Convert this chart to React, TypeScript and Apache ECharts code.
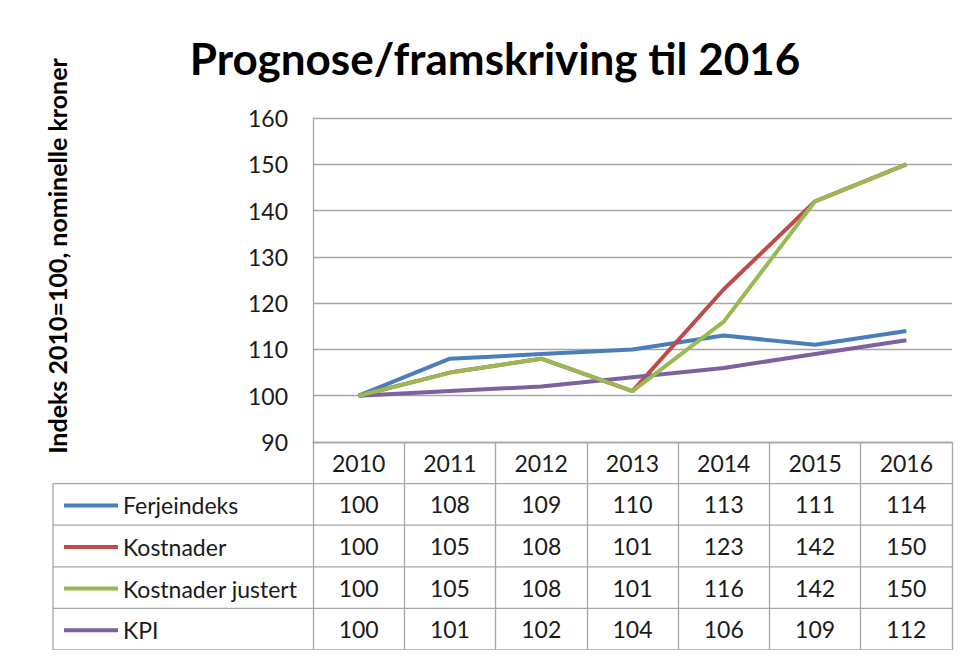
import React, { useEffect, useRef } from "react";
import * as echarts from "echarts";

const titleText = "Prognose/framskriving til 2016";
const yAxisTitle = "Indeks 2010=100, nominelle kroner";
const years = ["2010", "2011", "2012", "2013", "2014", "2015", "2016"];
const seriesNames = ["Ferjeindeks", "Kostnader", "Kostnader justert", "KPI"];
const ferjeindeks = [100, 108, 109, 110, 113, 111, 114];
const kostnader = [100, 105, 108, 101, 123, 142, 150];
const kostnaderJustert = [100, 105, 108, 101, 116, 142, 150];
const kpi = [100, 101, 102, 104, 106, 109, 112];
const colors = ["#4a7ebb", "#be4b48", "#98b954", "#7d60a0"];
const yTicks = { min: 90, max: 160, interval: 10 };

const W = 970;
const H = 658;
const gridLeft = 313;
const gridRight = 18;
const gridTop = 118;
const gridBottom = 216;
const rowH = 41.6;
const tableLeft = 53;
const FONT = "Lato, 'Open Sans', sans-serif";
const gridColor = "#a6a6a6";
const textSize = 23;

export default function App() {
  const ref = useRef<HTMLDivElement>(null);
  useEffect(() => {
    if (!ref.current) return;
    const chart = echarts.init(ref.current, undefined, { renderer: "svg" });
    const rows = [ferjeindeks, kostnader, kostnaderJustert, kpi];
    const axisBottomY = H - gridBottom;
    const plotRight = W - gridRight;

    const xAxes: any[] = [
      {
        type: "category",
        data: years,
        position: "bottom",
        boundaryGap: true,
        axisLine: { show: true, lineStyle: { color: gridColor, width: 1.3 } },
        axisTick: {
          show: true,
          interval: 0,
          length: rowH * 5,
          lineStyle: { color: gridColor, width: 1.3 },
        },
        axisLabel: {
          interval: 0,
          fontSize: textSize,
          fontFamily: FONT,
          color: "#1a1a1a",
          margin: rowH / 2,
          verticalAlign: "middle",
        },
      },
    ];
    rows.forEach((row, k) => {
      xAxes.push({
        type: "category",
        data: years,
        position: "bottom",
        boundaryGap: true,
        axisLine: { show: false },
        axisTick: { show: false },
        splitLine: { show: false },
        axisLabel: {
          interval: 0,
          fontSize: textSize,
          fontFamily: FONT,
          color: "#1a1a1a",
          margin: rowH / 2 + rowH * (k + 1),
          verticalAlign: "middle",
          formatter: (_v: string, i: number) => String(row[i]),
        },
      });
    });

    const graphics: any[] = [
      {
        id: "frameTop",
        type: "rect",
        shape: { x: 6, y: 4.5, width: W, height: 2 },
        style: { fill: "#9a9a9a" },
      },
      {
        id: "frameLeft",
        type: "rect",
        shape: { x: 6, y: 4.5, width: 2, height: H },
        style: { fill: "#9a9a9a" },
      },
      {
        id: "title",
        type: "text",
        x: 495,
        y: 58,
        style: {
          text: titleText,
          font: `bold 44px ${FONT}`,
          fill: "#000",
          textAlign: "center",
          textVerticalAlign: "middle",
        },
      },
      {
        id: "ytitle",
        type: "text",
        x: 57,
        y: 256,
        rotation: Math.PI / 2,
        style: {
          text: yAxisTitle,
          font: `bold 25px ${FONT}`,
          fill: "#000",
          textAlign: "center",
          textVerticalAlign: "middle",
        },
      },
      {
        id: "tableLeft",
        type: "line",
        shape: { x1: tableLeft, y1: axisBottomY + rowH, x2: tableLeft, y2: axisBottomY + rowH * 5 },
        style: { stroke: gridColor, lineWidth: 1.3 },
      },
    ];
    for (let r = 1; r <= 5; r++) {
      const y = axisBottomY + rowH * r;
      graphics.push({
        id: "row" + r,
        type: "line",
        shape: { x1: tableLeft, y1: y, x2: plotRight, y2: y },
        style: { stroke: gridColor, lineWidth: 1.3 },
      });
    }

    chart.setOption({
      animation: false,
      backgroundColor: "#ffffff",
      color: colors,
      grid: { left: gridLeft, right: gridRight, top: gridTop, bottom: gridBottom, containLabel: false },
      legend: {
        orient: "vertical",
        left: 59,
        top: axisBottomY + rowH + rowH / 2 - 12 - 4,
        itemWidth: 54,
        itemHeight: 4,
        itemGap: rowH - 24,
        icon: "rect",
        selectedMode: false,
        textStyle: { fontSize: textSize, fontFamily: FONT, color: "#1a1a1a", lineHeight: 24 },
        data: seriesNames,
      },
      xAxis: xAxes,
      yAxis: {
        type: "value",
        min: yTicks.min,
        max: yTicks.max,
        interval: yTicks.interval,
        axisLine: { show: true, lineStyle: { color: gridColor, width: 1.3 } },
        axisTick: { show: false },
        splitLine: { show: true, lineStyle: { color: gridColor, width: 1.3 } },
        axisLabel: { fontSize: textSize, fontFamily: FONT, color: "#1a1a1a", margin: 25 },
      },
      series: rows.map((row, k) => ({
        name: seriesNames[k],
        type: "line",
        xAxisIndex: 0,
        data: row,
        symbol: "none",
        lineStyle: { width: 4, color: colors[k] },
        itemStyle: { color: colors[k] },
        z: 3 + (k === 2 ? 1 : 0),
      })),
      graphic: graphics,
    });
    return () => chart.dispose();
  }, []);
  return <div ref={ref} style={{ width: W, height: H, margin: -8 }} />;
}
